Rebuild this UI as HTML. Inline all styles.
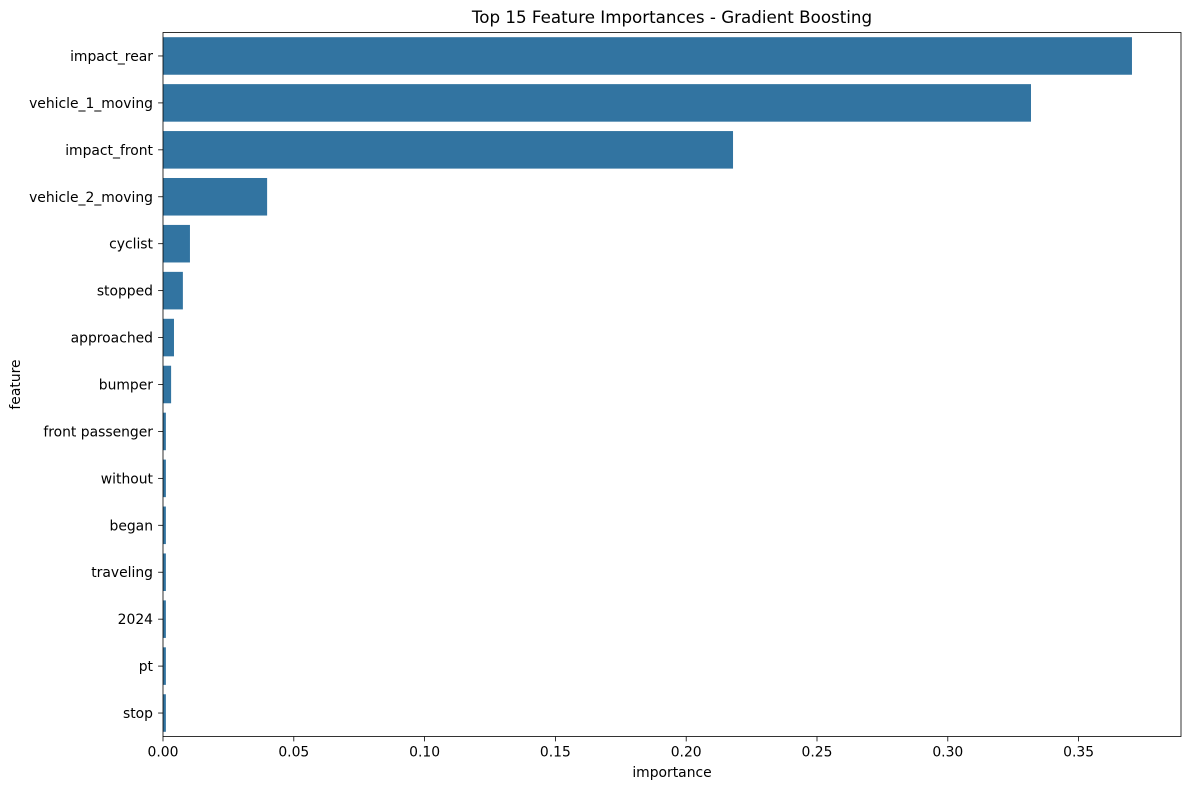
<!DOCTYPE html>
<html><head><meta charset="utf-8"><style>
body{margin:0;background:#fff;font-family:"Liberation Sans","DejaVu Sans",sans-serif;}
svg text{font-family:"DejaVu Sans","Liberation Sans",sans-serif;font-size:13.9px;fill:#000;}
</style></head><body>
<svg id="chart" width="1189" height="790">
<text x="672" y="23" text-anchor="middle" style="font-size:16.7px">Top 15 Feature Importances - Gradient Boosting</text>
<g id="bars"></g><g id="yt"></g><g id="xt"></g>
<rect x="163" y="32.5" width="1018" height="704" fill="none" stroke="#000" stroke-width="0.8"/>
<text x="672" y="777" text-anchor="middle">importance</text>
<text transform="translate(20,384.5) rotate(-90)" text-anchor="middle">feature</text>
</svg>
<script>
const features=["impact_rear","vehicle_1_moving","impact_front","vehicle_2_moving","cyclist","stopped","approached","bumper","front passenger","without","began","traveling","2024","pt","stop"];
const importances=[0.3704,0.3318,0.2179,0.0398,0.0103,0.0076,0.0042,0.0031,0.0011,0.0011,0.0011,0.0011,0.0011,0.0011,0.0011];
const xTicks=[0,0.05,0.10,0.15,0.20,0.25,0.30,0.35];
const xTickLabels=["0.00","0.05","0.10","0.15","0.20","0.25","0.30","0.35"];
const NS="http://www.w3.org/2000/svg";
const L=163,T=32.5,H=704,pxPerUnit=2616;
const step=H/features.length;
const x=v=>L+v*pxPerUnit;
const y=i=>T+step*(i+0.5);
const bars=document.getElementById('bars'),yt=document.getElementById('yt'),xt=document.getElementById('xt');
features.forEach((f,i)=>{
 const r=document.createElementNS(NS,'rect');
 r.setAttribute('x',x(0));r.setAttribute('y',y(i)-step*0.4);
 r.setAttribute('width',x(importances[i])-x(0));r.setAttribute('height',step*0.8);
 r.setAttribute('fill','#3274a1');
 
 
 bars.appendChild(r);
 const l=document.createElementNS(NS,'line');
 l.setAttribute('x1',L-4.9);l.setAttribute('x2',L);l.setAttribute('y1',y(i));l.setAttribute('y2',y(i));l.setAttribute('stroke','#000');l.setAttribute('stroke-width','0.8');
 yt.appendChild(l);
 const t=document.createElementNS(NS,'text');
 t.setAttribute('x',L-10);t.setAttribute('y',y(i)+5);t.setAttribute('text-anchor','end');t.textContent=f;
 
 
 yt.appendChild(t);
});
xTicks.forEach((v,i)=>{
 const l=document.createElementNS(NS,'line');
 l.setAttribute('x1',x(v));l.setAttribute('x2',x(v));l.setAttribute('y1',T+H);l.setAttribute('y2',T+H+4.9);l.setAttribute('stroke','#000');l.setAttribute('stroke-width','0.8');
 xt.appendChild(l);
 const t=document.createElementNS(NS,'text');
 t.setAttribute('x',x(v));t.setAttribute('y',T+H+20);t.setAttribute('text-anchor','middle');t.textContent=xTickLabels[i];
 
 
 xt.appendChild(t);
});
</script>
</body></html>
